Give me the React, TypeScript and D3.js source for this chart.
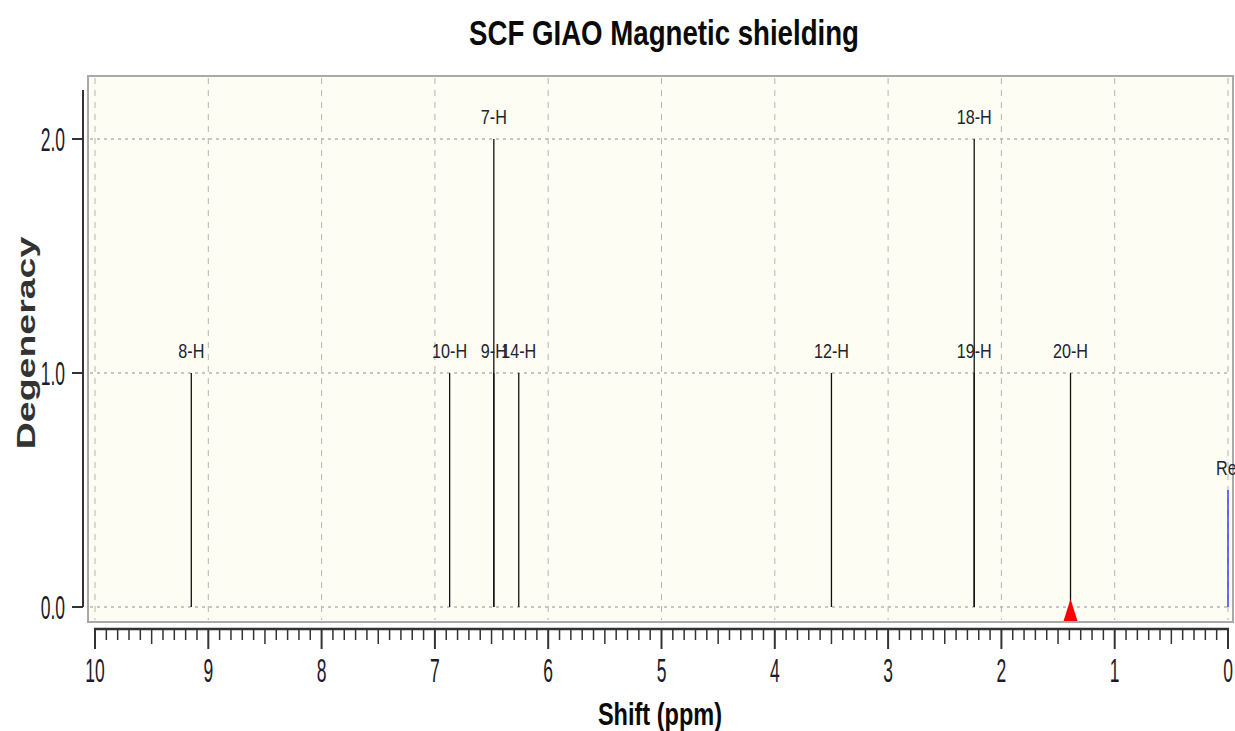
import React from "react";
import * as d3 from "d3";

// Proton shifts (ppm) and their degeneracy
const peakLabels = ["8-H", "10-H", "7-H", "9-H", "14-H", "12-H", "18-H", "19-H", "20-H"];
const peakShifts = [9.15, 6.87, 6.48, 6.48, 6.26, 3.5, 2.24, 2.24, 1.39];
const peakDegeneracy = [1, 1, 2, 1, 1, 1, 2, 1, 1];
const refLabel = "Ref";
const refShift = 0;
const refHeight = 0.5;
const markerShift = 1.39;
const xTicks = [10, 9, 8, 7, 6, 5, 4, 3, 2, 1, 0];
const yTicks = [0, 1, 2];

const W = 1235;
const H = 731;
const FONT = "'Liberation Sans', Arial, sans-serif";

type CTextProps = {
  x: number;
  y: number;
  sx: number;
  size: number;
  anchor?: "start" | "middle" | "end";
  weight?: string;
  fill?: string;
  rotate?: number;
  spacing?: number;
  children: React.ReactNode;
};

// Condensed text: horizontally scaled around its anchor point
function CText({ x, y, sx, size, anchor = "middle", weight = "normal", fill = "#1a1a2a", rotate = 0, spacing = 0, children }: CTextProps) {
  return (
    <text
      transform={`translate(${x},${y}) rotate(${rotate}) scale(${sx},1)`}
      textAnchor={anchor}
      fontSize={size}
      fontWeight={weight}
      fill={fill}
      letterSpacing={spacing}
    >
      {children}
    </text>
  );
}

export default function App() {
  const x = d3.scaleLinear().domain([10, 0]).range([95, 1228]);
  const y = d3.scaleLinear().domain([0, 2]).range([607, 139]);
  const box = { left: 88, top: 76, right: 1233, bottom: 622 };
  const axisY = 629;
  const minor = d3.range(0, 101).map((i) => i / 10);

  return (
    <svg
      width={W}
      height={H}
      style={{ position: "absolute", left: 0, top: 0, background: "#fff" }}
      fontFamily={FONT}
    >
      <defs>
        <clipPath id="plotClip">
          <rect x={box.left} y={box.top} width={W - box.left} height={box.bottom - box.top} />
        </clipPath>
      </defs>
      <CText x={664} y={45} sx={0.79} size={35} weight="bold" fill="#0a0a0a">
        SCF GIAO Magnetic shielding
      </CText>

      {/* plot frame */}
      <rect
        x={box.left}
        y={box.top}
        width={box.right - box.left}
        height={box.bottom - box.top}
        fill="#fdfdf4"
        stroke="#a9a9a9"
        strokeWidth={2}
      />

      {/* grid */}
      {xTicks.map((t) => (
        <line
          key={"gx" + t}
          x1={x(t)}
          x2={x(t)}
          y1={box.top + 2}
          y2={box.bottom - 2}
          stroke="#b5b5b5"
          strokeWidth={1}
          strokeDasharray="6,6"
        />
      ))}
      {yTicks.map((t) => (
        <line
          key={"gy" + t}
          x1={box.left + 2}
          x2={box.right - 2}
          y1={y(t)}
          y2={y(t)}
          stroke="#b5b5b5"
          strokeWidth={1.3}
          strokeDasharray="3,4"
        />
      ))}

      <g clipPath="url(#plotClip)">
        {peakShifts.map((s, i) => (
          <line
            key={"p" + i}
            x1={x(s)}
            x2={x(s)}
            y1={y(0)}
            y2={y(peakDegeneracy[i])}
            stroke="#111"
            strokeWidth={1.3}
          />
        ))}
        {peakShifts.map((s, i) => (
          <CText key={"pl" + i} x={x(s)} y={y(peakDegeneracy[i]) - 15} sx={0.77} size={21} fill="#22222e">
            {peakLabels[i]}
          </CText>
        ))}
        <line
          x1={x(refShift)}
          x2={x(refShift)}
          y1={y(0)}
          y2={y(refHeight)}
          stroke="#3a3aff"
          strokeWidth={1.5}
        />
        <CText x={x(refShift) - 12} y={y(refHeight) - 15} sx={0.77} size={21} anchor="start" fill="#22222e">
          {refLabel}
        </CText>
        <path
          d={`M${x(markerShift)},${y(0) - 8} L${x(markerShift) + 7},${box.bottom - 1} L${x(markerShift) - 7},${box.bottom - 1} Z`}
          fill="#ff0000"
        />
      </g>

      {/* y axis */}
      <line x1={83} x2={83} y1={90} y2={y(0)} stroke="#333" strokeWidth={2} />
      {yTicks.map((t) => (
        <g key={"yt" + t}>
          <line x1={72} x2={83} y1={y(t)} y2={y(t)} stroke="#333" strokeWidth={2} />
          <CText x={65} y={y(t) + 12} sx={0.53} size={33} anchor="end">
            {t.toFixed(1)}
          </CText>
        </g>
      ))}
      <CText x={35} y={343} sx={1.5} size={25} weight="bold" fill="#333" rotate={-90}>
        Degeneracy
      </CText>

      {/* x axis */}
      <line x1={x(10) - 1} x2={x(0) + 1} y1={axisY} y2={axisY} stroke="#333" strokeWidth={2.5} />
      {minor.map((m, i) => {
        const len = i % 10 === 0 ? 20 : i % 5 === 0 ? 15 : 11;
        return (
          <line
            key={"mt" + i}
            x1={x(m)}
            x2={x(m)}
            y1={axisY}
            y2={axisY + len}
            stroke="#333"
            strokeWidth={i % 10 === 0 ? 2 : 1.5}
          />
        );
      })}
      {xTicks.map((t) => (
        <CText key={"xt" + t} x={x(t)} y={682} sx={0.53} size={33}>
          {t}
        </CText>
      ))}
      <CText x={660} y={725} sx={0.76} size={31} weight="bold" fill="#0a0a0a">
        Shift (ppm)
      </CText>
    </svg>
  );
}
